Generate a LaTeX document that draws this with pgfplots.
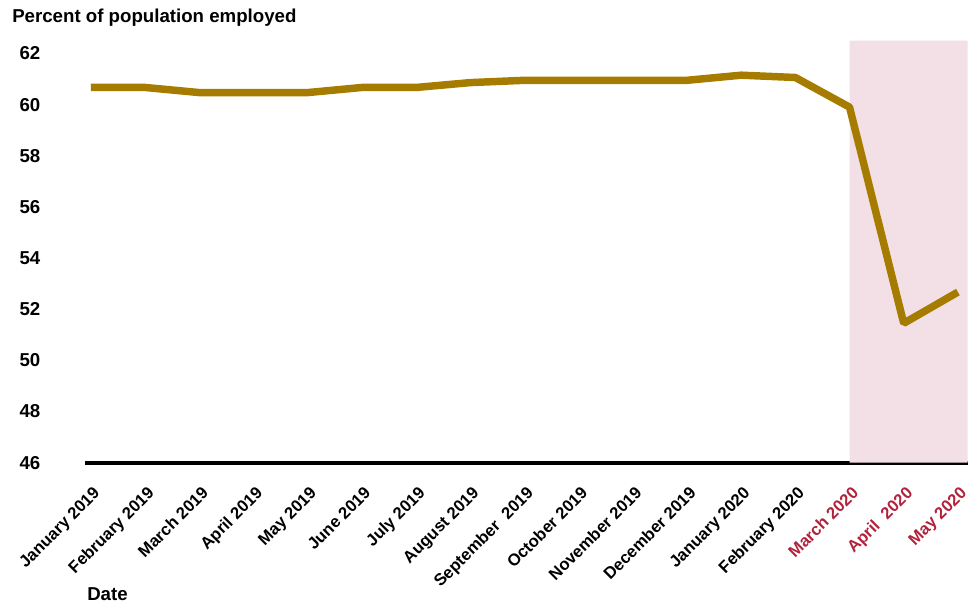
\documentclass[border=0pt]{standalone}
\usepackage{pgfplots}
\pgfplotsset{compat=1.18}
\usepackage{fontspec}
\setmainfont{Liberation Sans}
\definecolor{linegold}{RGB}{166,124,0}
\definecolor{shadepink}{RGB}{242,224,230}
\definecolor{labred}{RGB}{176,35,60}
\begin{document}
\begin{tikzpicture}
\useasboundingbox (-63.75pt,-105.2pt) rectangle (667.5pt,347pt);
\begin{axis}[
  at={(0,0)}, anchor=south west,
  scale only axis,
  width=662pt, height=316.5pt,
  xmin=-0.11, xmax=16.18,
  ymin=46, ymax=62.5,
  axis lines*=left,
  y axis line style={draw=none},
  x axis line style={line width=3pt, black},
  major tick length=0pt,
  ytick={46,48,...,62},
  xtick={0,...,16},
  xticklabels={January 2019,February 2019,March 2019,April 2019,May 2019,June 2019,July 2019,August 2019,September\ \ 2019,October 2019,November 2019,December 2019,January 2020,February 2020,\textcolor{labred}{March 2020},\textcolor{labred}{April\ \ 2020},\textcolor{labred}{May 2020}},
  /pgf/number format/assume math mode=true,
  yticklabel style={font=\fontsize{14}{16}\selectfont\bfseries, anchor=east, xshift=-30pt},
  xticklabel style={font=\fontsize{12.5}{14}\selectfont\bfseries, inner sep=0pt, yshift=-17pt, xshift=1pt, rotate=45, anchor=north east},
  clip=false,
]
\addplot[fill=shadepink, draw=none] coordinates {(14,46) (16.18,46) (16.18,62.5) (14,62.5)} \closedcycle;
\addplot[color=linegold, line width=5.6pt, line join=bevel] coordinates {
(0,60.67) (1,60.67) (2,60.47) (3,60.47) (4,60.47) (5,60.67) (6,60.67) (7,60.86)
(8,60.95) (9,60.95) (10,60.95) (11,60.95) (12,61.15) (13,61.06) (14,59.9) (15,51.45) (16,52.67)};
\end{axis}
\node[anchor=west, inner sep=0pt, font=\fontsize{14}{16}\selectfont\bfseries] at (-54.75pt,333.5pt) {Percent of population employed};
\node[anchor=west, inner sep=0pt, font=\fontsize{14}{16}\selectfont\bfseries] at (1.5pt,-98.5pt) {Date};
\end{tikzpicture}
\end{document}
